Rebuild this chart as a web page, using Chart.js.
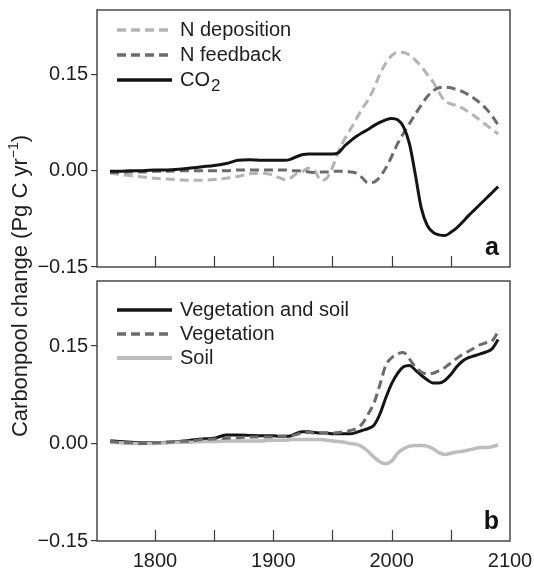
<!DOCTYPE html>
<html>
<head>
<meta charset="utf-8">
<script src="https://cdn.jsdelivr.net/npm/chart.js@4.4.0/dist/chart.umd.min.js"></script>
<style>
  body { margin: 0; background: #fff; }
  #wrap { position: relative; width: 534px; height: 570px; overflow: hidden; }
  canvas { position: absolute; left: 0; }
  #chartA { top: -10px; }
  #chartB { top: 260px; }
  #ylab {
    position: absolute; left: -181px; top: 274px; width: 400px; height: 24px;
    line-height: 24px; text-align: center; transform: rotate(-90deg);
    font: 22px "Liberation Sans", Arial, sans-serif; color: #1e1e1e; white-space: nowrap;
  }
  #ylab sup { font-size: 14px; line-height: 0; vertical-align: 9px; }
</style>
</head>
<body>
<div id="wrap">
  <canvas id="chartA" width="534" height="300"></canvas>
  <canvas id="chartB" width="560" height="310"></canvas>
  <div id="ylab">Carbonpool change (Pg C yr<sup>&minus;1</sup>)</div>
</div>
<script>
const years = [1762, 1770, 1780, 1790, 1800, 1810, 1820, 1830, 1840, 1850, 1860, 1870, 1880, 1890, 1900,
  1905, 1910, 1915, 1920, 1925, 1930, 1935, 1940, 1945, 1950,
  1955, 1960, 1965, 1970, 1975, 1980, 1985, 1990, 1995, 2000, 2005, 2010, 2015, 2020, 2025,
  2030, 2035, 2040, 2045, 2050, 2055, 2060, 2065, 2070, 2075, 2080, 2085, 2090];

// panel a
const nDeposition = [-0.004, -0.006, -0.008, -0.010, -0.012, -0.013, -0.014, -0.015, -0.015, -0.014, -0.012, -0.009, -0.005, -0.004, -0.007,
  -0.011, -0.014, -0.011, -0.004, -0.001, 0.004, 0.000, -0.015, -0.012, 0.005,
  0.030, 0.048, 0.064, 0.080, 0.096, 0.110, 0.128, 0.150, 0.167, 0.179, 0.184, 0.184, 0.180, 0.172, 0.162,
  0.150, 0.138, 0.122, 0.108, 0.104, 0.101, 0.097, 0.091, 0.085, 0.078, 0.071, 0.064, 0.057];
const nFeedback = [-0.003, -0.003, -0.002, -0.002, -0.001, -0.001, 0.000, 0.000, 0.000, 0.000, 0.000, 0.001, 0.001, 0.001, 0.001,
  0.001, 0.001, 0.000, 0.000, -0.001, -0.002, -0.003, -0.002, -0.002, -0.001,
  -0.001, -0.001, -0.002, -0.004, -0.011, -0.019, -0.018, -0.010, 0.004, 0.022, 0.042, 0.058, 0.073, 0.088, 0.102,
  0.115, 0.124, 0.129, 0.130, 0.129, 0.126, 0.123, 0.118, 0.112, 0.105, 0.096, 0.085, 0.071];
const co2 = [-0.001, -0.001, 0.000, 0.000, 0.001, 0.001, 0.002, 0.004, 0.006, 0.008, 0.011, 0.016, 0.017, 0.016, 0.016,
  0.016, 0.016, 0.018, 0.022, 0.025, 0.026, 0.026, 0.026, 0.026, 0.026,
  0.028, 0.038, 0.046, 0.053, 0.059, 0.064, 0.070, 0.075, 0.079, 0.081, 0.079, 0.068, 0.042, -0.006, -0.058,
  -0.085, -0.096, -0.100, -0.101, -0.096, -0.089, -0.080, -0.070, -0.061, -0.052, -0.043, -0.034, -0.025];

// panel b
const vegSoil = [0.004, 0.003, 0.002, 0.001, 0.001, 0.002, 0.003, 0.005, 0.007, 0.008, 0.013, 0.013, 0.0125, 0.012, 0.012,
  0.011, 0.011, 0.012, 0.016, 0.018, 0.018, 0.017, 0.016, 0.016, 0.015,
  0.015, 0.015, 0.015, 0.017, 0.020, 0.023, 0.028, 0.045, 0.070, 0.092, 0.108, 0.118, 0.120, 0.113, 0.105,
  0.098, 0.093, 0.093, 0.097, 0.106, 0.118, 0.127, 0.132, 0.135, 0.138, 0.141, 0.146, 0.160];
const vegetation = [0.003, 0.002, 0.001, 0.000, 0.001, 0.002, 0.003, 0.004, 0.006, 0.007, 0.008, 0.009, 0.010, 0.010, 0.010,
  0.011, 0.011, 0.012, 0.014, 0.017, 0.017, 0.016, 0.016, 0.016, 0.016,
  0.017, 0.018, 0.020, 0.023, 0.030, 0.045, 0.062, 0.090, 0.120, 0.132, 0.138, 0.140, 0.130, 0.118, 0.110,
  0.107, 0.108, 0.112, 0.117, 0.124, 0.131, 0.137, 0.142, 0.147, 0.152, 0.155, 0.158, 0.172];
const soil = [0.002, 0.001, 0.000, 0.000, 0.000, 0.001, 0.002, 0.002, 0.003, 0.003, 0.004, 0.004, 0.004, 0.004, 0.005,
  0.005, 0.005, 0.006, 0.006, 0.006, 0.006, 0.006, 0.006, 0.005, 0.004,
  0.003, 0.002, 0.000, -0.001, -0.005, -0.012, -0.021, -0.028, -0.031, -0.027, -0.015, -0.008, -0.004, -0.003, -0.003,
  -0.004, -0.008, -0.014, -0.017, -0.015, -0.013, -0.012, -0.010, -0.008, -0.006, -0.006, -0.005, -0.002];

const yTicks = [-0.15, 0, 0.15];
const yearTicks = [1800, 1900, 2000, 2100];
const minorYears = [1800, 1850, 1900, 1950, 2000, 2050];

const FONT = '"Liberation Sans", Arial, sans-serif';
const TEXT = '#1e1e1e';

function series(vals) {
  return years.map((yr, i) => ({ x: yr, y: vals[i] }));
}

function line(label, vals, color, width, dash, order) {
  return {
    label: label, data: series(vals), borderColor: color, borderWidth: width,
    borderDash: dash, borderCapStyle: 'butt', pointRadius: 0,
    cubicInterpolationMode: 'monotone', fill: false, order: order
  };
}

// frame, inward year ticks, panel letter and the legend block
const panelDeco = {
  id: 'panelDeco',
  afterDatasetsDraw(chart, args, opts) {
    const ctx = chart.ctx, a = chart.chartArea, x = chart.scales.x;
    ctx.save();
    ctx.strokeStyle = '#3c3c3c';
    ctx.lineWidth = 1.4;
    ctx.strokeRect(a.left, a.top, a.right - a.left, a.bottom - a.top);
    ctx.beginPath();
    minorYears.forEach(yr => {
      const px = Math.round(x.getPixelForValue(yr)) + 0.5;
      ctx.moveTo(px, a.bottom);
      ctx.lineTo(px, a.bottom - 11);
    });
    ctx.lineWidth = 1.2;
    ctx.stroke();

    ctx.fillStyle = '#111';
    ctx.font = 'bold 25px ' + FONT;
    ctx.textAlign = 'right';
    ctx.textBaseline = 'alphabetic';
    ctx.fillText(opts.letter, a.right - 11, a.bottom - 12);

    chart.data.datasets.forEach((ds, i) => {
      const y = a.top + opts.first + i * opts.step;
      ctx.beginPath();
      ctx.strokeStyle = ds.borderColor;
      ctx.lineWidth = ds.borderWidth + 0.5;
      ctx.setLineDash(ds.borderDash || []);
      ctx.moveTo(117, y);
      ctx.lineTo(172, y);
      ctx.stroke();
      ctx.setLineDash([]);
      ctx.fillStyle = TEXT;
      ctx.font = '20px ' + FONT;
      ctx.textAlign = 'left';
      ctx.textBaseline = 'middle';
      if (ds.label === 'CO2') {
        ctx.fillText('CO', 180, y);
        const w = ctx.measureText('CO').width;
        ctx.font = '17px ' + FONT;
        ctx.fillText('2', 180 + w + 1, y + 6);
      } else {
        ctx.fillText(ds.label, 180, y);
      }
    });
    ctx.restore();
  }
};

function options(showYears, deco, padding) {
  return {
    responsive: false,
    animation: false,
    devicePixelRatio: 1,
    layout: { padding: padding },
    plugins: { legend: { display: false }, tooltip: { enabled: false }, panelDeco: deco },
    scales: {
      x: {
        type: 'linear', min: 1751, max: 2100,
        display: showYears,
        grid: { display: false, drawTicks: false },
        border: { display: false },
        afterBuildTicks: s => { s.ticks = yearTicks.map(v => ({ value: v })); },
        afterFit: s => { s.height = showYears ? 29 : 0; },
        ticks: {
          autoSkip: false, maxRotation: 0, padding: 8, color: TEXT, font: { family: FONT, size: 20 },
          callback: v => String(v)
        }
      },
      y: {
        min: -0.15, max: 0.25,
        grid: { drawOnChartArea: false, tickLength: 6, color: '#3c3c3c', lineWidth: 1.2 },
        border: { display: false },
        afterBuildTicks: s => { s.ticks = yTicks.map(v => ({ value: v })); },
        afterFit: s => { s.width = 97; },
        ticks: {
          padding: 3, color: TEXT, font: { family: FONT, size: 20 },
          callback: v => v === 0 ? '0.00' : (v < 0 ? '\u2212' : '') + Math.abs(v).toFixed(2)
        }
      }
    }
  };
}

new Chart(document.getElementById('chartA'), {
  type: 'line',
  data: {
    datasets: [
      line('N deposition', nDeposition, '#b4b4b4', 3, [9, 5], 3),
      line('N feedback', nFeedback, '#6c6c6c', 3, [9, 5], 2),
      line('CO2', co2, '#141414', 3, [], 1)
    ]
  },
  options: options(false, { letter: 'a', first: 20, step: 25 }, { left: 0, top: 20, right: 24, bottom: 23 }),
  plugins: [panelDeco]
});

new Chart(document.getElementById('chartB'), {
  type: 'line',
  data: {
    datasets: [
      line('Vegetation and soil', vegSoil, '#141414', 3, [], 3),
      line('Vegetation', vegetation, '#6c6c6c', 3, [9, 5], 1),
      line('Soil', soil, '#bdbdbd', 3.5, [], 2)
    ]
  },
  options: options(true, { letter: 'b', first: 29, step: 24 }, { left: 0, top: 21, right: 50, bottom: 0 }),
  plugins: [panelDeco]
});
</script>
</body>
</html>
